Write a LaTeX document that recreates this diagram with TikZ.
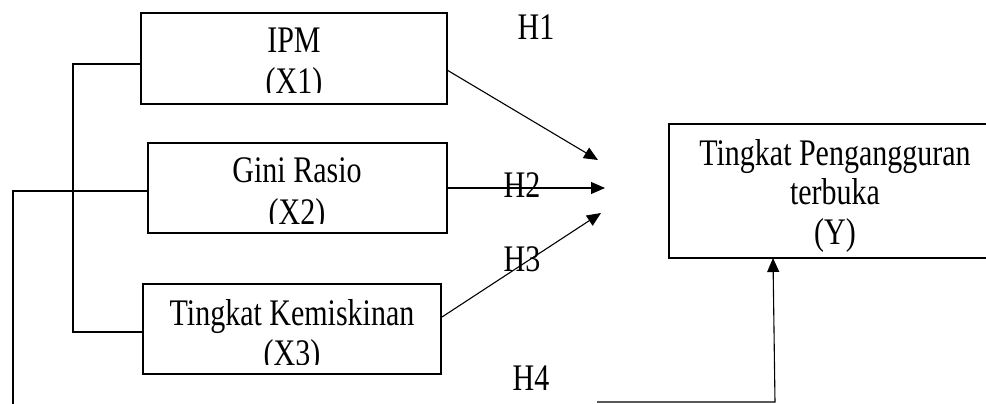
\documentclass[tikz,border=0pt]{standalone}
\usepackage{fontspec}
\usepackage{graphicx}
\setmainfont{Liberation Serif}
\usetikzlibrary{arrows.meta}

% text set slightly taller than wide
\newcommand{\tallText}[1]{\scalebox{1}[1.25]{#1}}

\tikzset{
  box/.style={draw=black, line width=2.5pt, inner sep=0pt, outer sep=0pt, fill=none},
  label/.style={anchor=base, inner sep=0pt, font=\fontsize{30}{36}\selectfont},
  link/.style={draw=black, line width=1.1pt},
  arrowlink/.style={link, -{Triangle[length=14pt, width=12pt]}},
}

\begin{document}
\begin{tikzpicture}[x=1pt, y=-1pt]
  \useasboundingbox (0,0) rectangle (986,404);
  \clip (0,0) rectangle (986,404);

  % boxes for the variables
  \node[box, minimum width=306pt, minimum height=91pt] (x1) at (294,58.5) {};
  \node[box, minimum width=299pt, minimum height=90pt] (x2) at (297.5,188) {};
  \node[box, minimum width=298pt, minimum height=90pt] (x3) at (292,329) {};
  \node[box, minimum width=336pt, minimum height=134pt] (y) at (837,191) {};

  % box texts, cut off at the lower edge
  \begin{scope}
    \clip (141,13) rectangle (447,93);
    \node[label] (x1a) at (294,53) {\tallText{IPM}};
    \node[label] (x1b) at (294,94) {\tallText{(X1)}};
  \end{scope}
  \begin{scope}
    \clip (148,143) rectangle (447,223);
    \node[label] (x2a) at (297,182) {\tallText{Gini Rasio}};
    \node[label] (x2b) at (297,224) {\tallText{(X2)}};
  \end{scope}
  \begin{scope}
    \clip (143,284) rectangle (441,364);
    \node[label] (x3a) at (292,325) {\tallText{Tingkat Kemiskinan}};
    \node[label] (x3b) at (292,365) {\tallText{(X3)}};
  \end{scope}
  \node[label] (ya) at (835,165) {\tallText{Tingkat Pengangguran}};
  \node[label] (yb) at (835,204) {\tallText{terbuka}};
  \node[label] (yc) at (835,244) {\tallText{(Y)}};

  % bracket linking X1 and X3
  \coordinate (b1) at (73,64);
  \coordinate (b2) at (73,332);
  \draw[link] (x1.west |- b1) -- (b1) -- (b2) -- (x3.west |- b2);

  % line from X2 down and across to Y
  \coordinate (g1) at (13,191);
  \coordinate (g2) at (13,406);
  \draw[link] (x2.west |- g1) -- (g1) -- (g2);
  \coordinate (d1) at (597,402);
  \coordinate (d2) at (775,402);
  \draw[arrowlink] (d1) -- (d2) -- (y.south -| 773,0);

  % hypothesis arrows
  \coordinate (s1) at (447,70);
  \coordinate (t1) at (598,160);
  \coordinate (t2) at (605,188);
  \coordinate (s3) at (442,317);
  \coordinate (t3) at (601,213);
  \draw[arrowlink] (s1) -- (t1);
  \draw[arrowlink] (x2.east) -- (t2);
  \draw[arrowlink] (s3) -- (t3);

  % hypothesis labels
  \node[label] (h1) at (536,40) {\tallText{H1}};
  \node[label] (h2) at (522,197) {\tallText{H2}};
  \node[label] (h3) at (522,271) {\tallText{H3}};
  \node[label] (h4) at (531,390) {\tallText{H4}};
\end{tikzpicture}
\end{document}
